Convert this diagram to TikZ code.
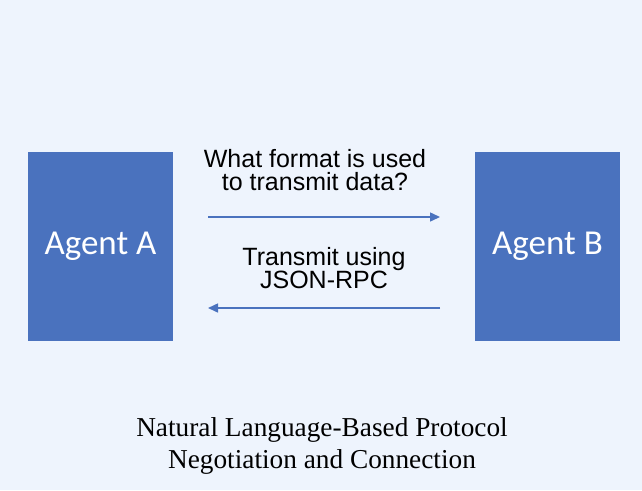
\documentclass[tikz,border=0pt]{standalone}
\usepackage{fontspec}
\setmainfont{Liberation Serif}
\newfontfamily\agentfont{Carlito}
\newfontfamily\labelfont{Liberation Sans}
\usetikzlibrary{arrows.meta}
\definecolor{bgblue}{HTML}{EEF4FD}
\definecolor{boxblue}{HTML}{4A72BE}
\begin{document}
\begin{tikzpicture}[x=1pt,y=-1pt,
  agent/.style={draw=none,fill=boxblue,minimum width=145pt,minimum height=189pt,inner sep=0pt,text=white,font=\agentfont\fontsize{35}{40}\selectfont},
  msg/.style={align=center,inner sep=0pt,font=\labelfont\fontsize{25}{23}\selectfont},
  flow/.style={draw=boxblue,line width=1.5pt,-{Triangle[length=10pt,width=9pt]}},
  caption/.style={align=center,inner sep=0pt,font=\fontsize{27.3}{32}\selectfont}]
\fill[bgblue] (0,0) rectangle (642,490);
\useasboundingbox (0,0) rectangle (642,490);
\node[agent] (A) at (100.5,246.5) {Agent A};
\node[agent] (B) at (547.5,246.5) {Agent B};
\coordinate (a1) at (208,217);
\coordinate (b1) at (440,217);
\coordinate (a2) at (208,308);
\coordinate (b2) at (440,308);
\draw[flow] (a1) -- (b1);
\draw[flow] (b2) -- (a2);
\node[msg,anchor=base] (q) at (315,190) {What format is used\\to transmit data?};
\node[msg,anchor=base] (r) at (324,288) {Transmit using\\JSON-RPC};
\node[caption,anchor=base] (cap) at (322,468) {Natural Language-Based Protocol\\Negotiation and Connection};
\end{tikzpicture}
\end{document}
